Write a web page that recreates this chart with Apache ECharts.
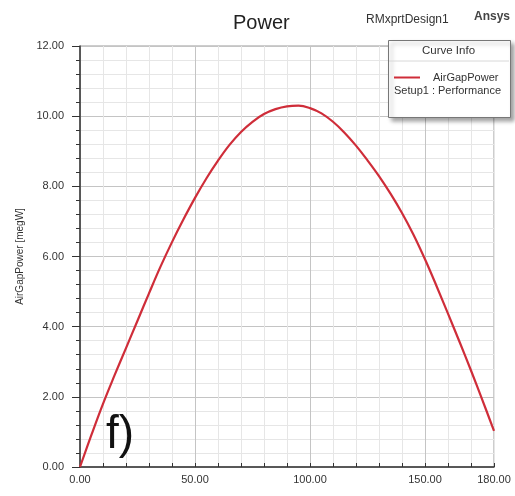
<!DOCTYPE html>
<html>
<head>
<meta charset="utf-8">
<script src="https://cdn.jsdelivr.net/npm/echarts@6/dist/echarts.min.js"></script>
<style>
  html, body { margin: 0; padding: 0; background: #fff; }
  #chart { width: 515px; height: 496px; }
</style>
</head>
<body>
<div id="chart"></div>
<script>
// Load angle (deg) and air-gap power (megW)
const angleDeg = [0, 5, 10, 15, 20, 25, 30, 35, 40, 45, 50, 55, 60, 65, 70, 75, 80, 85, 90,
                  95, 100, 105, 110, 115, 120, 125, 130, 135, 140, 145, 150, 155, 160, 165, 170, 175, 180];
const airGapPower = [0.00, 0.92, 1.80, 2.61, 3.39, 4.17, 4.95, 5.71, 6.41, 7.06, 7.67, 8.23, 8.73, 9.18, 9.55, 9.84, 10.06, 10.20, 10.28,
                     10.30, 10.23, 10.08, 9.84, 9.53, 9.16, 8.74, 8.29, 7.79, 7.24, 6.62, 5.92, 5.16, 4.37, 3.57, 2.75, 1.90, 1.03];
const xTickLabels = [0, 50, 100, 150, 180];

const FONT = '"Liberation Sans", Arial, sans-serif';
const MAJOR = '#c4c4c4';
const MINOR = '#e6e6e6';

const chart = echarts.init(document.getElementById('chart'));
chart.setOption({
  backgroundColor: '#ffffff',
  animation: false,
  textStyle: { fontFamily: FONT },
  grid: { left: 80, right: 21, top: 46, bottom: 29, show: true, borderColor: '#9a9a9a', borderWidth: 1 },
  xAxis: {
    type: 'value', min: 0, max: 180, interval: 10,
    axisLine: { lineStyle: { color: '#333', width: 1.5 } },
    axisTick: { inside: true, length: 4, lineStyle: { color: '#333' } },
    axisLabel: {
      color: '#333', fontSize: 11, margin: 7, fontFamily: FONT,
      formatter: v => xTickLabels.includes(Math.round(v)) ? v.toFixed(2) : ''
    },
    splitLine: { show: true, lineStyle: { color: [MAJOR, MINOR, MINOR, MINOR, MINOR], width: 1 } }
  },
  yAxis: {
    type: 'value', min: 0, max: 12, interval: 2,
    name: 'AirGapPower [megW]', nameLocation: 'middle', nameGap: 55,
    nameTextStyle: { color: '#333', fontSize: 10, fontFamily: FONT },
    axisLine: { lineStyle: { color: '#333', width: 1.5 } },
    axisTick: { length: 8, lineStyle: { color: '#333' } },
    minorTick: { show: true, splitNumber: 5, length: 4, lineStyle: { color: '#333' } },
    axisLabel: { color: '#333', fontSize: 11, margin: 16, fontFamily: FONT, formatter: v => v.toFixed(2) },
    splitLine: { show: true, lineStyle: { color: MAJOR } },
    minorSplitLine: { show: true, lineStyle: { color: MINOR } }
  },
  legend: {
    left: 389, top: 67, z: 30, itemWidth: 26, itemHeight: 2, itemGap: 0,
    icon: 'rect', textStyle: { color: '#333', fontSize: 11, fontFamily: FONT, padding: [0, 0, 0, 8] },
    data: ['AirGapPower']
  },
  series: [{
    name: 'AirGapPower', type: 'line', smooth: 0.4, showSymbol: false,
    lineStyle: { color: '#cf2d39', width: 2.2 }, itemStyle: { color: '#cf2d39' },
    data: angleDeg.map((a, i) => [a, airGapPower[i]]), z: 5
  }],
  graphic: [
    { type: 'text', left: 233, top: 13, style: { text: 'Power', font: '20px ' + FONT, fill: '#222' } },
    { type: 'text', left: 366, top: 14, style: { text: 'RMxprtDesign1', font: '12px ' + FONT, fill: '#333' } },
    { type: 'text', left: 474, top: 11, style: { text: 'Ansys', font: 'bold 12px ' + FONT, fill: '#444' } },
    {
      type: 'rect', left: 388, top: 40, z: 10,
      shape: { width: 122, height: 77 },
      style: { fill: '#fff', stroke: '#777', lineWidth: 1, shadowBlur: 4, shadowOffsetX: 3, shadowOffsetY: 3, shadowColor: 'rgba(0,0,0,0.35)' }
    },
    { type: 'line', z: 11, shape: { x1: 389, y1: 61, x2: 509, y2: 61 }, style: { stroke: '#d8d8d8', lineWidth: 1 } },
    { type: 'text', z: 11, left: 422, top: 45, style: { text: 'Curve Info', font: '11.5px ' + FONT, fill: '#333' } },
    { type: 'text', z: 11, left: 394, top: 85, style: { text: 'Setup1 : Performance', font: '11px ' + FONT, fill: '#333' } },
    { type: 'text', z: 11, left: 106, top: 412, style: { text: 'f)', font: '46px ' + FONT, fill: '#111' } }
  ]
});
</script>
</body>
</html>
